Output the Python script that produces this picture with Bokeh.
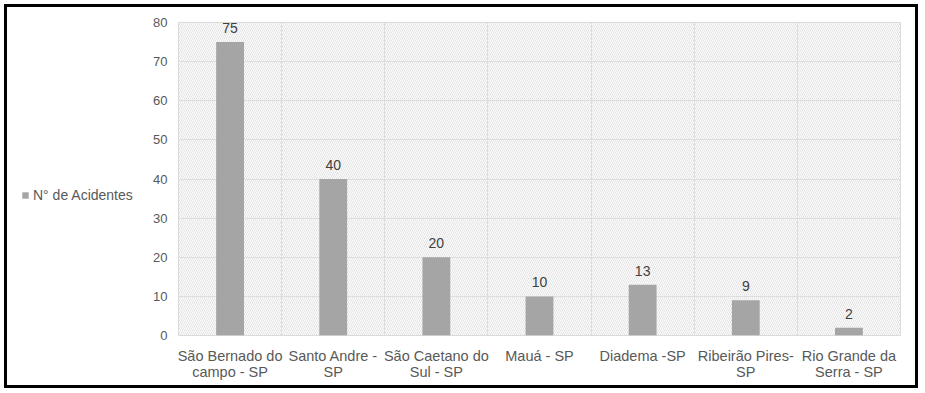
from bokeh.plotting import figure
from bokeh.layouts import row
from bokeh.models import FixedTicker, BoxAnnotation, Legend, LegendItem, ColumnDataSource
from bokeh.core.properties import value
from bokeh.embed import file_html
from bokeh.resources import INLINE

categories = ["São Bernado do\ncampo - SP", "Santo Andre -\nSP", "São Caetano do\nSul - SP",
              "Mauá - SP", "Diadema -SP", "Ribeirão Pires-\nSP", "Rio Grande da\nSerra - SP"]
acidentes = [75, 40, 20, 10, 13, 9, 2]
y_ticks = [0, 10, 20, 30, 40, 50, 60, 70, 80]
series_name = "N° de Acidentes"

FONT = "Liberation Sans"
BAR = "#a5a5a5"
n = len(categories)
xs = [i + 0.5 for i in range(n)]

H = 378
# legend panel (proxy bar lies outside the panel's visible range; it only feeds the legend swatch)
pl = figure(width=140, height=H, x_range=(0, 1), y_range=(0, 1), output_backend="svg",
            toolbar_location=None, x_axis_type=None, y_axis_type=None,
            min_border_left=0, min_border_right=0, min_border_top=0, min_border_bottom=0)
pl.outline_line_color = None
pl.xgrid.visible = False
pl.ygrid.visible = False
lr = pl.vbar(x=[-5], top=[-5], bottom=[-6], width=0.5, fill_color=BAR, line_color=None)
legend = Legend(items=[LegendItem(label=series_name, renderers=[lr])], location=(14, 132),
                label_text_font=FONT, label_text_font_size="14px", label_text_color="#595959",
                glyph_width=8, glyph_height=8, label_standoff=4, padding=0, margin=0,
                border_line_color=None, background_fill_alpha=0)
pl.add_layout(legend)

p = figure(width=768, height=H, x_range=(0, n), y_range=(0, 80),
           output_backend="svg", toolbar_location=None,
           min_border_left=31, min_border_right=15, min_border_top=15, min_border_bottom=50)

# hatched background
p.add_layout(BoxAnnotation(fill_alpha=0, line_color=None, hatch_pattern="\\",
                           hatch_color="#e2e2e2", hatch_scale=4, hatch_weight=1, level="underlay"))

src = ColumnDataSource(dict(x=xs, top=acidentes, lbl=[str(v) for v in acidentes]))
p.vbar(x="x", top="top", width=0.27, bottom=0, source=src, fill_color=BAR, line_color=None)
p.text(x="x", y="top", text="lbl", source=src, y_offset=-9, text_align="center", text_baseline="bottom",
       text_font=value(FONT), text_font_size="14px", text_color="#404040")

p.xaxis.ticker = FixedTicker(ticks=xs)
p.xaxis.major_label_overrides = {x: c for x, c in zip(xs, categories)}
p.yaxis.ticker = FixedTicker(ticks=y_ticks)
for ax in (p.xaxis[0], p.yaxis[0]):
    ax.axis_line_color = None
    ax.major_tick_line_color = None
    ax.minor_tick_line_color = None
    ax.major_tick_out = 0
    ax.major_tick_in = 0
    ax.minor_tick_out = 0
    ax.major_label_text_font = FONT
    ax.major_label_text_color = "#595959"
p.xaxis.major_label_text_font_size = "14.5px"
p.xaxis.major_label_text_line_height = 1.05
p.yaxis.major_label_text_font_size = "13px"
p.xaxis.major_label_standoff = 12
p.yaxis.major_label_standoff = 11

p.xgrid.ticker = FixedTicker(ticks=list(range(n + 1)))
p.xgrid.grid_line_color = "#d9d9d9"
p.ygrid.grid_line_color = "#d9d9d9"
p.outline_line_color = "#d9d9d9"

lay = row(pl, p)
lay.styles = {"border": "3px solid black", "margin-left": "4px", "margin-top": "4px"}

open("out.html", "w").write(file_html(lay, INLINE))
